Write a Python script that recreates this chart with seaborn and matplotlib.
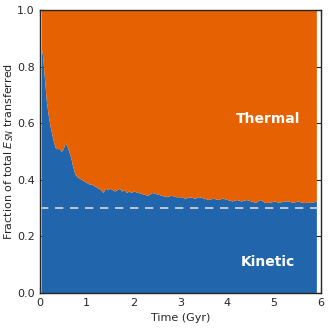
import numpy as np
import seaborn as sns
import matplotlib.pyplot as plt

# time (Gyr) and kinetic fraction of E_SN
time = [0.03, 0.06, 0.1, 0.14, 0.18, 0.22, 0.26, 0.3, 0.34, 0.38, 0.42, 0.46,
        0.5, 0.54, 0.58, 0.62, 0.66, 0.7, 0.75, 0.8, 0.85, 0.9, 0.95, 1.0,
        1.05, 1.1, 1.15, 1.2, 1.25, 1.3, 1.35, 1.4, 1.45, 1.5, 1.55, 1.6,
        1.65, 1.7, 1.75, 1.8, 1.85, 1.9, 1.95, 2.0, 2.1, 2.2, 2.3, 2.4,
        2.5, 2.6, 2.7, 2.8, 2.9, 3.0, 3.1, 3.2, 3.3, 3.4, 3.5, 3.6, 3.7,
        3.8, 3.9, 4.0, 4.1, 4.2, 4.3, 4.4, 4.5, 4.6, 4.7, 4.8, 4.9, 5.0,
        5.1, 5.2, 5.3, 5.4, 5.5, 5.6, 5.7, 5.8, 5.9]
kinetic = [0.87, 0.84, 0.76, 0.68, 0.63, 0.59, 0.56, 0.53, 0.51, 0.51, 0.51, 0.5,
           0.51, 0.53, 0.52, 0.5, 0.48, 0.45, 0.42, 0.41, 0.405, 0.4, 0.395, 0.39,
           0.385, 0.385, 0.38, 0.375, 0.37, 0.365, 0.355, 0.37, 0.365, 0.37, 0.365, 0.36,
           0.365, 0.37, 0.36, 0.365, 0.355, 0.36, 0.355, 0.36, 0.355, 0.35, 0.345, 0.355,
           0.35, 0.345, 0.34, 0.345, 0.34, 0.34, 0.335, 0.34, 0.335, 0.34, 0.335, 0.33, 0.335,
           0.33, 0.335, 0.33, 0.325, 0.33, 0.325, 0.33, 0.325, 0.32, 0.33, 0.32, 0.32, 0.325,
           0.32, 0.325, 0.325, 0.32, 0.325, 0.32, 0.32, 0.32, 0.325]
target = 0.3

sns.set_style("ticks")
plt.rcParams['font.family'] = ['DejaVu Sans']

fig, ax = plt.subplots(figsize=(3.31, 3.31), dpi=100)

t = np.array(time)
k = np.array(kinetic)
ax.fill_between(t, 0, k, color="#2166ac", lw=0)
ax.fill_between(t, k, 1, color="#e66101", lw=0)
ax.axhline(target, color="#d8d8d8", ls="--", lw=1.2, dashes=(5, 4))

ax.text(4.87, 0.615, "Thermal", color="white", fontsize=10, fontweight="bold",
        ha="center", va="center")
ax.text(4.87, 0.11, "Kinetic", color="white", fontsize=10, fontweight="bold",
        ha="center", va="center")

ax.set_xlim(0, 6)
ax.set_ylim(0, 1)
ax.set_xticks(range(7))
ax.set_yticks(np.arange(0, 1.01, 0.2))
ax.tick_params(direction="in", top=True, right=True, labelsize=8, length=4)
ax.set_xlabel("Time (Gyr)", fontsize=8)
ax.set_ylabel(r"Fraction of total $E_{SN}$ transferred", fontsize=8, labelpad=1)
for s in ax.spines.values():
    s.set_linewidth(1)

fig.subplots_adjust(left=0.12, right=0.97, bottom=0.115, top=0.97)
plt.savefig("out.png")
